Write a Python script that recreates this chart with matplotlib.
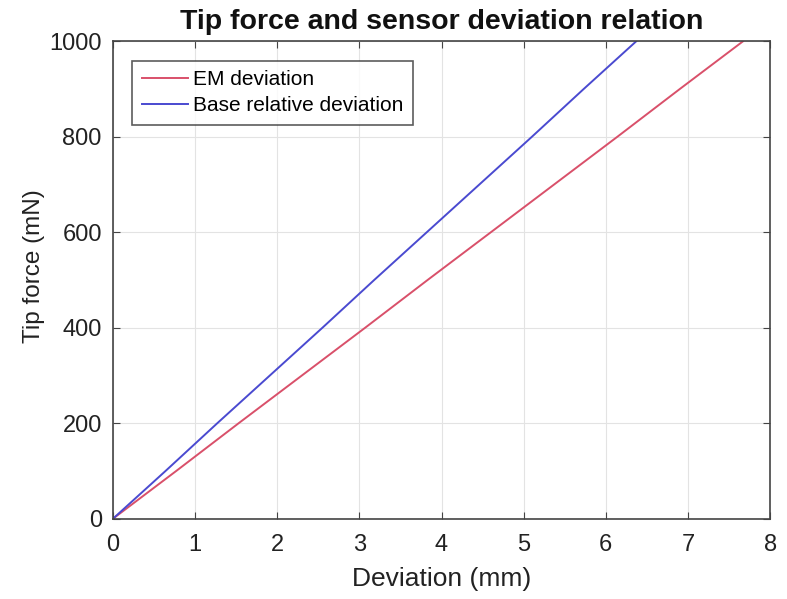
import matplotlib
matplotlib.use("Agg")
import matplotlib.pyplot as plt

force = [0, 100, 200, 300, 400, 500, 600, 700, 800, 900, 1000]
em_dev = [0, 0.77, 1.53, 2.30, 3.07, 3.83, 4.60, 5.37, 6.14, 6.90, 7.67]
base_dev = [0, 0.64, 1.27, 1.91, 2.55, 3.18, 3.82, 4.46, 5.10, 5.73, 6.37]
xticks = [0, 1, 2, 3, 4, 5, 6, 7, 8]
yticks = [0, 200, 400, 600, 800, 1000]

plt.rcParams['font.family'] = ['Liberation Sans', 'DejaVu Sans']

fig = plt.figure(figsize=(7.87, 5.99), dpi=100)
ax = fig.add_axes([0.1435, 0.134, 0.835, 0.797])

ax.plot(em_dev, force, color='#d9506a', lw=1.4, label='EM deviation')
ax.plot(base_dev, force, color='#4a4ad0', lw=1.4, label='Base relative deviation')

ax.set_xlim(0, 8)
ax.set_ylim(0, 1000)
ax.set_xticks(xticks)
ax.set_yticks(yticks)
ax.grid(True, color='#e3e3e3', lw=0.8)
ax.set_axisbelow(True)
ax.tick_params(direction='in', top=True, right=True, labelsize=17, length=5,
               color='#444444', labelcolor='#222222')
ax.tick_params(axis='x', pad=11)
ax.tick_params(axis='y', pad=8)
for s in ax.spines.values():
    s.set_color('#444444')
    s.set_linewidth(1.2)

ax.set_xlabel('Deviation (mm)', fontsize=19, color='#222222', labelpad=8)
ax.set_ylabel('Tip force (mN)', fontsize=17.5, color='#222222')
ax.yaxis.set_label_coords(-0.103, 0.53)
ax.set_title('Tip force and sensor deviation relation', fontsize=20.5,
             fontweight='bold', color='#111111', pad=9)

leg = ax.legend(loc='upper left', fontsize=15, frameon=True, fancybox=False,
                edgecolor='#333333', borderaxespad=1.0, handlelength=2.2,
                handletextpad=0.25, borderpad=0.45, labelspacing=0.35,
                bbox_to_anchor=(-0.002, 1.003))
leg.get_frame().set_linewidth(1.2)

fig.savefig('out.png', dpi=100)
